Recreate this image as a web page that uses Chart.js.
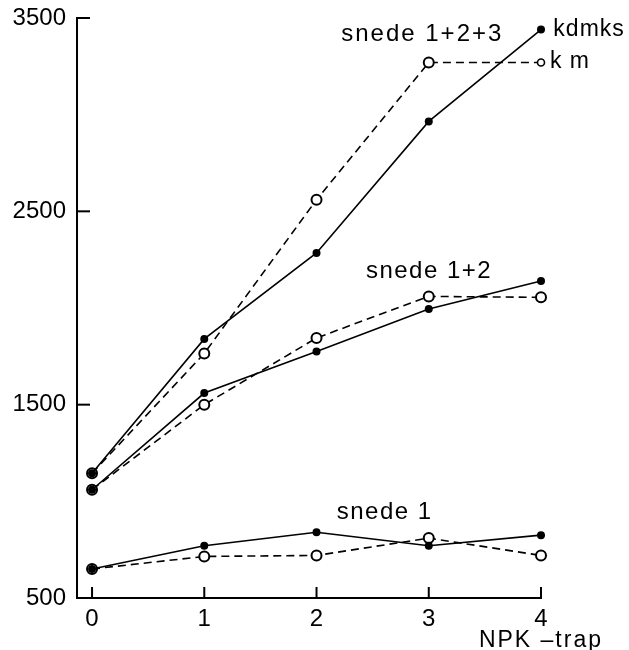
<!DOCTYPE html>
<html><head><meta charset="utf-8">
<script src="https://cdn.jsdelivr.net/npm/chart.js@4"></script>
<style>html,body{margin:0;padding:0;background:#fff;}canvas{display:block;}</style>
</head><body>
<canvas id="c" width="629" height="650"></canvas>
<script>
// ---- data ----
const npkSteps = [0, 1, 2, 3, 4];
const yTickValues = [500, 1500, 2500, 3500];
const snede1_kdmks   = [650, 770, 840, 770, 825];
const snede1_km      = [650, 715, 720, 810, 720];
const snede12_kdmks  = [1060, 1560, 1775, 1995, 2140];
const snede12_km     = [1060, 1500, 1845, 2060, 2055];
const snede123_kdmks = [1145, 1840, 2285, 2965, 3440];
const snede123_km    = [1145, 1765, 2560, 3270, 3270];
const groupLabels = ['snede 1', 'snede 1+2', 'snede 1+2+3'];
const seriesLabels = ['kdmks', 'k m'];
const xTitle = 'NPK –trap';

const FONT = '"Liberation Sans", Arial, sans-serif';
const toPts = arr => npkSteps.map((x, i) => ({ x: x, y: arr[i] }));

const solid = {
  borderColor: '#000', borderWidth: 1.6, pointRadius: 4, pointHoverRadius: 4,
  pointBackgroundColor: '#000', pointBorderColor: '#000', pointBorderWidth: 0,
  tension: 0, clip: false, fill: false
};
const dashed = {
  borderColor: '#000', borderWidth: 1.6, borderDash: [8, 5], pointRadius: 5, pointHoverRadius: 5,
  pointBackgroundColor: '#fff', pointBorderColor: '#000', pointBorderWidth: 2,
  tension: 0, clip: false, fill: false
};

const datasets = [
  Object.assign({ label: groupLabels[0] + ' ' + seriesLabels[0], data: toPts(snede1_kdmks) }, solid),
  Object.assign({ label: groupLabels[0] + ' ' + seriesLabels[1], data: toPts(snede1_km) }, dashed),
  Object.assign({ label: groupLabels[1] + ' ' + seriesLabels[0], data: toPts(snede12_kdmks) }, solid),
  Object.assign({ label: groupLabels[1] + ' ' + seriesLabels[1], data: toPts(snede12_km) }, dashed),
  Object.assign({ label: groupLabels[2] + ' ' + seriesLabels[0], data: toPts(snede123_kdmks) }, solid),
  Object.assign({ label: groupLabels[2] + ' ' + seriesLabels[1], data: toPts(snede123_km) }, dashed,
    { pointRadius: [5, 5, 5, 5, 3.5], pointBorderWidth: [2, 2, 2, 2, 1.6] })
];

// annotation anchors in data space
const annotations = [
  { text: groupLabels[2], x: 2.22, y: 3415, size: 24, sp: 2 },
  { text: groupLabels[1], x: 2.44, y: 2190, size: 24, sp: 1.5 },
  { text: groupLabels[0], x: 2.18, y: 945, size: 24, sp: 1.5 },
  { text: seriesLabels[0], x: 4.11, y: 3440, size: 23, sp: 1 },
  { text: seriesLabels[1], x: 4.08, y: 3275, size: 23, sp: 1 }
];

const decor = {
  id: 'decor',
  afterDraw(chart) {
    const ctx = chart.ctx, xs = chart.scales.x, ys = chart.scales.y;
    ctx.save();
    ctx.strokeStyle = '#000';
    ctx.lineWidth = 2;
    // inward tick marks
    yTickValues.forEach(v => {
      if (v === ys.min) return;
      const py = ys.getPixelForValue(v);
      ctx.beginPath(); ctx.moveTo(xs.left, py); ctx.lineTo(xs.left + 13, py); ctx.stroke();
    });
    npkSteps.forEach(v => {
      const px = xs.getPixelForValue(v);
      ctx.beginPath(); ctx.moveTo(px, ys.bottom); ctx.lineTo(px, ys.bottom - 11); ctx.stroke();
    });
    // annotations
    ctx.fillStyle = '#000';
    ctx.textBaseline = 'middle';
    ctx.textAlign = 'left';
    annotations.forEach(a => {
      ctx.font = a.size + 'px ' + FONT;
      try { ctx.letterSpacing = a.sp + 'px'; } catch (e) {}
      ctx.fillText(a.text, xs.getPixelForValue(a.x), ys.getPixelForValue(a.y));
    });
    // x title
    ctx.font = '23px ' + FONT;
    try { ctx.letterSpacing = '2px'; } catch (e) {}
    ctx.textAlign = 'right';
    ctx.fillText(xTitle, xs.right + 62, ys.bottom + 43);
    ctx.restore();
  }
};

new Chart(document.getElementById('c'), {
  type: 'line',
  data: { datasets: datasets },
  options: {
    responsive: false,
    animation: false,
    events: [],
    layout: { padding: { top: 18, right: 88, left: 0, bottom: 0 } },
    plugins: { legend: { display: false }, tooltip: { enabled: false } },
    scales: {
      x: {
        type: 'linear', position: 'bottom', min: -0.134, max: 4,
        grid: { display: false, drawTicks: false },
        border: { display: true, color: '#000', width: 2 },
        afterBuildTicks: s => { s.ticks = npkSteps.map(v => ({ value: v })); },
        afterFit: s => { s.height = 52; s.paddingLeft = 0; s.paddingRight = 0; },
        ticks: { color: '#000', font: { family: FONT, size: 24 }, padding: 7, maxRotation: 0, autoSkip: false }
      },
      y: {
        type: 'linear', min: 500, max: 3500,
        grid: { display: false, drawTicks: false },
        border: { display: true, color: '#000', width: 2 },
        afterBuildTicks: s => { s.ticks = yTickValues.map(v => ({ value: v })); },
        afterFit: s => { s.width = 77; s.paddingTop = 0; s.paddingBottom = 0; },
        ticks: { color: '#000', font: { family: FONT, size: 24 }, padding: 11, callback: v => String(v) }
      }
    }
  },
  plugins: [decor]
});
</script>
</body></html>
